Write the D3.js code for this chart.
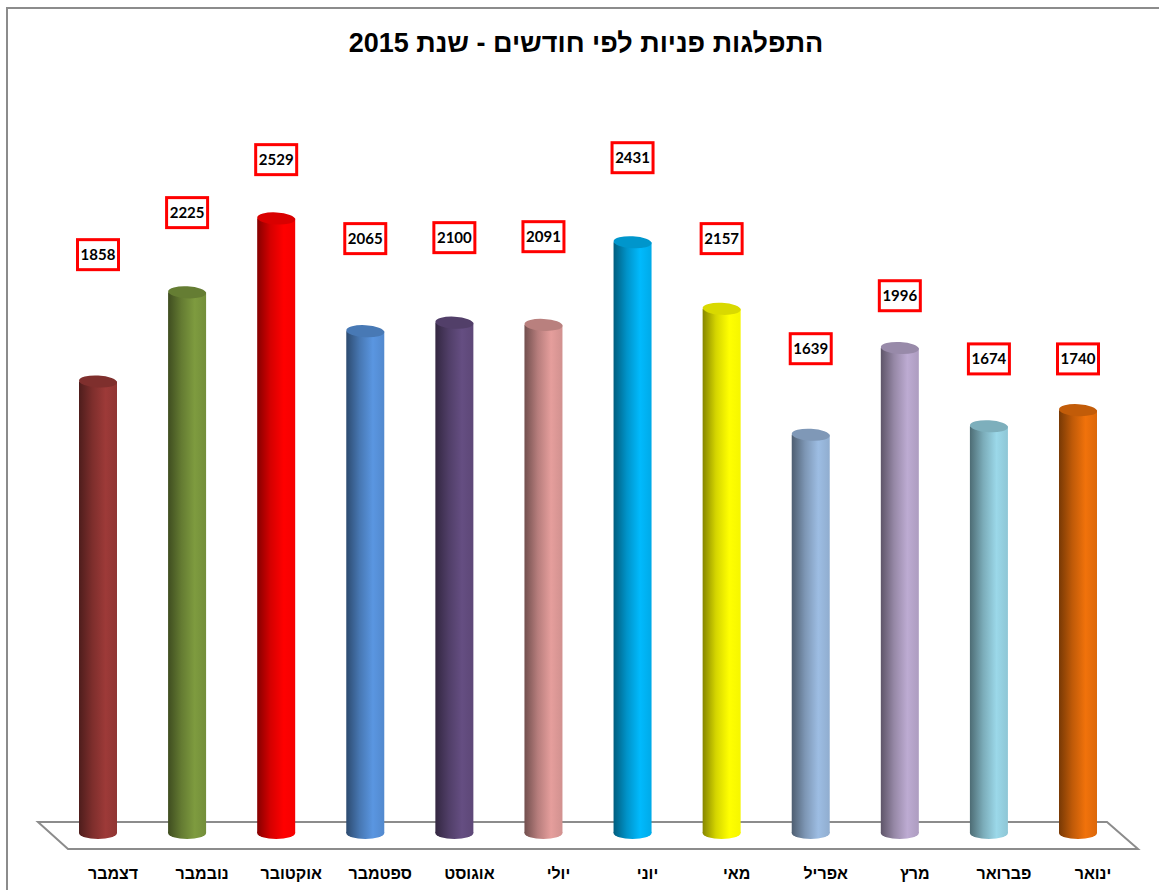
<!DOCTYPE html>
<html>
<head>
<meta charset="utf-8" />
<title>התפלגות פניות לפי חודשים</title>
<style>
html, body {
  margin: 0;
  padding: 0;
  background: #ffffff;
}
</style>
</head>
<body>
<script src="https://d3js.org/d3.v7.min.js"></script>
<script>
// data, left to right as drawn (the chart reads right to left)
const months = ['דצמבר', 'נובמבר', 'אוקטובר', 'ספטמבר', 'אוגוסט', 'יולי', 'יוני', 'מאי', 'אפריל', 'מרץ', 'פברואר', 'ינואר']
const values = [1858, 2225, 2529, 2065, 2100, 2091, 2431, 2157, 1639, 1996, 1674, 1740]
// where each value box sits, in value units (boxes are not placed evenly in the original)
const labelAt = [2380, 2553, 2771, 2446, 2450, 2454, 2779, 2446, 1993, 2211, 1951, 1951]
const colors = ['#953735', '#77933c', '#ff0000', '#558ed5', '#604a7b', '#d99694',
                '#00b0f0', '#ffff00', '#95b3d7', '#b3a2c7', '#93cddd', '#e46c0a']
const title = 'התפלגות פניות לפי חודשים - שנת 2015'

const W = 1159, H = 890
const svg = d3.select('body').append('svg')
  .attr('width', W)
  .attr('height', H)

// chart frame
svg.append('rect')
  .attr('x', 7).attr('y', 8)
  .attr('width', W + 20).attr('height', H + 20)
  .attr('fill', '#fff')
  .attr('stroke', '#8c8c8c')
  .attr('stroke-width', 2)

svg.append('text')
  .attr('x', 586).attr('y', 52)
  .attr('text-anchor', 'middle')
  .attr('direction', 'rtl')
  .style('font-family', '"Liberation Sans", Arial, sans-serif')
  .style('font-weight', 'bold')
  .style('font-size', '27px')
  .attr('fill', '#000')
  .text(title)

const x = d3.scalePoint()
  .domain(months)
  .range([98, 1078])

const y = d3.scaleLinear()
  .domain([0, 3000])
  .range([833, 104])

// floor of the 3d plot
const floor = [[38, 822], [1107, 822], [1138, 849], [68, 849]]
svg.append('path')
  .attr('d', d3.line()(floor) + 'Z')
  .attr('fill', '#fff')
  .attr('stroke', '#8c8c8c')
  .attr('stroke-width', 2)

// gradients for the cylinders
const defs = svg.append('defs')
colors.forEach(function(c, i) {
  const g = defs.append('linearGradient')
    .attr('id', 'grad' + i)
    .attr('x1', '0%').attr('x2', '100%')
    .attr('y1', '0%').attr('y2', '0%')
  const base = d3.color(c)
  g.append('stop').attr('offset', '0%').attr('stop-color', d3.rgb(base).darker(1.8))
  g.append('stop').attr('offset', '35%').attr('stop-color', d3.rgb(base).darker(0.5))
  g.append('stop').attr('offset', '70%').attr('stop-color', d3.rgb(base).brighter(0.15))
  g.append('stop').attr('offset', '100%').attr('stop-color', d3.rgb(base).darker(0.1))
})

const rx = 19, ry = 6

const bars = svg.selectAll('g.bar')
  .data(values)
  .enter().append('g')
  .attr('class', 'bar')

bars.append('ellipse')
  .attr('cx', (d, i) => x(months[i]))
  .attr('cy', y(0))
  .attr('rx', rx).attr('ry', ry)
  .attr('fill', (d, i) => 'url(#grad' + i + ')')

bars.append('rect')
  .attr('x', (d, i) => x(months[i]) - rx)
  .attr('y', d => y(d))
  .attr('width', rx * 2)
  .attr('height', d => y(0) - y(d))
  .attr('fill', (d, i) => 'url(#grad' + i + ')')

bars.append('ellipse')
  .attr('cx', (d, i) => x(months[i]))
  .attr('cy', d => y(d))
  .attr('rx', rx).attr('ry', ry)
  .attr('transform', (d, i) => 'rotate(3,' + x(months[i]) + ',' + y(d) + ')')
  .attr('fill', (d, i) => d3.rgb(colors[i]).darker(0.45))

// value boxes
const boxes = svg.selectAll('g.vlabel')
  .data(values)
  .enter().append('g')
  .attr('class', 'vlabel')
  .attr('transform', (d, i) => 'translate(' + x(months[i]) + ',' + y(labelAt[i]) + ')')

boxes.append('rect')
  .attr('x', -20.5).attr('y', -15)
  .attr('width', 41).attr('height', 30)
  .attr('fill', '#fff')
  .attr('stroke', '#ff0000')
  .attr('stroke-width', 3)

boxes.append('text')
  .attr('text-anchor', 'middle')
  .attr('dy', '0.36em')
  .style('font-family', 'Lato, "Open Sans", sans-serif')
  .style('font-weight', 'bold')
  .style('font-size', '15px')
  .attr('fill', '#000')
  .text(d => d)

// month names along the front edge of the floor
svg.selectAll('text.month')
  .data(months)
  .enter().append('text')
  .attr('class', 'month')
  .attr('x', d => x(d) + 15)
  .attr('y', 879)
  .attr('text-anchor', 'middle')
  .attr('direction', 'rtl')
  .style('font-family', '"Liberation Sans", Arial, sans-serif')
  .style('font-weight', 'bold')
  .style('font-size', '16px')
  .attr('fill', '#000')
  .text(d => d)
</script>
</body>
</html>
